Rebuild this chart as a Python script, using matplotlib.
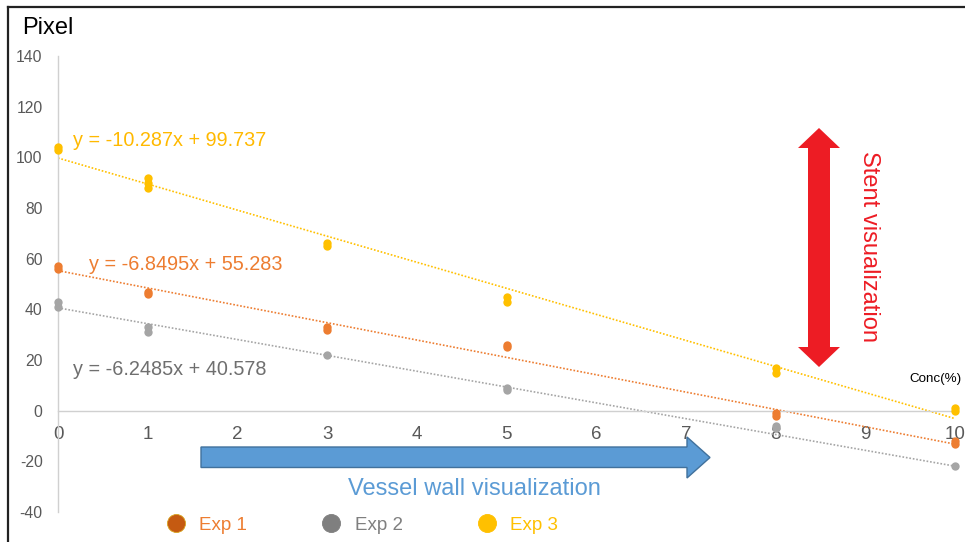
import matplotlib
matplotlib.use("Agg")
import matplotlib.pyplot as plt
from matplotlib.lines import Line2D
from matplotlib.patches import Polygon
import numpy as np

plt.rcParams['font.family'] = ['Liberation Sans', 'DejaVu Sans']
plt.rcParams['axes.unicode_minus'] = False

# ---- data ----
series_names = ["Exp 1", "Exp 2", "Exp 3"]
exp1_x = [0, 0, 1, 1, 3, 3, 5, 5, 8, 8, 10, 10]
exp1_y = [57, 56, 47, 46, 33, 32, 26, 25, -1, -2, -12, -13]
exp2_x = [0, 0, 1, 1, 3, 5, 5, 8, 8, 10]
exp2_y = [43, 41, 33, 31, 22, 9, 8, -6, -7, -22]
exp3_x = [0, 0, 1, 1, 1, 3, 3, 5, 5, 8, 8, 10, 10]
exp3_y = [104, 103, 92, 90, 88, 66, 65, 45, 43, 17, 15, 1, 0]
slopes = [-6.8495, -6.2485, -10.287]
intercepts = [55.283, 40.578, 99.737]
equations = ["y = -6.8495x + 55.283", "y = -6.2485x + 40.578", "y = -10.287x + 99.737"]
x_ticks = list(range(0, 11))
y_ticks = list(range(-40, 141, 20))

point_colors = ["#ED7D31", "#A5A5A5", "#FFC000"]
legend_colors = ["#C55A11", "#7F7F7F", "#FFC000"]
label_colors = ["#ED7D31", "#7F7F7F", "#FFC000"]
eq_colors = ["#ED7D31", "#6F6F6F", "#FFB900"]

W, H = 965, 542
fig = plt.figure(figsize=(W / 100, H / 100), dpi=100)

def fx(x):
    return x / W

def fy(y):
    return 1 - y / H

ax = fig.add_axes([fx(58), fy(512), fx(955) - fx(58), fy(56) - fy(512)])
ax.set_xlim(0, 10)
ax.set_ylim(-40, 140)

xs = [exp1_x, exp2_x, exp3_x]
ys = [exp1_y, exp2_y, exp3_y]

# trendlines
xl = np.array([0, 10])
for i in range(3):
    ax.plot(xl, slopes[i] * xl + intercepts[i], color=point_colors[i],
            lw=1.2, linestyle=(0, (1, 1.1)), zorder=2)
# points
for i in range(3):
    ax.plot(xs[i], ys[i], 'o', color=point_colors[i], ms=6, mec='none', zorder=3,
            clip_on=False)

# equation texts
eq_pos = [(0.35, 57.6), (0.17, 16.2), (0.17, 106.5)]
for i in range(3):
    ax.text(eq_pos[i][0], eq_pos[i][1], equations[i], color=eq_colors[i],
            fontsize=14.3, va='center', ha='left')

# spines/ticks
for s in ['top', 'right']:
    ax.spines[s].set_visible(False)
ax.spines['bottom'].set_position(('data', 0))
ax.spines['bottom'].set_color('#D0D0D0')
ax.spines['left'].set_color('#D0D0D0')
ax.spines['bottom'].set_linewidth(1.0)
ax.spines['left'].set_linewidth(1.0)
ax.set_xticks(x_ticks)
ax.set_yticks(y_ticks)
ax.tick_params(axis='x', length=0, pad=11, labelsize=13.5, labelcolor='#595959')
ax.tick_params(axis='y', length=0, pad=11, labelsize=11.3, labelcolor='#595959')
ax.patch.set_alpha(0)

# texts
fig.text(fx(22), fy(28), "Pixel", fontsize=17, color='black', va='center', ha='left')
fig.text(fx(936), fy(379), "Conc(%)", fontsize=9.6, color='black', va='center', ha='center')
fig.text(fx(474), fy(489), "Vessel wall visualization", fontsize=17, color='#5B9BD5',
         va='center', ha='center')
fig.text(fx(869), fy(246), "Stent visualization", fontsize=17, color='#ED1C24',
         va='center', ha='center', rotation=-90)

# red double arrow
red_pts = [(819, 128), (840, 148), (830, 148), (830, 347), (840, 347), (819, 367),
           (798, 347), (808, 347), (808, 148), (798, 148)]
fig.patches.append(Polygon([(fx(a), fy(b)) for a, b in red_pts], closed=True,
                           transform=fig.transFigure, facecolor='#ED1C24',
                           edgecolor='none', zorder=5))
# blue arrow
blue_pts = [(201, 447), (687, 447), (687, 437), (710, 457.5), (687, 478),
            (687, 467.5), (201, 467.5)]
fig.patches.append(Polygon([(fx(a), fy(b)) for a, b in blue_pts], closed=True,
                           transform=fig.transFigure, facecolor='#5B9BD5',
                           edgecolor='#41719C', lw=1.0, zorder=5))

# legend
handles = [Line2D([], [], marker='o', ls='none', color=legend_colors[i],
                  mec='#D9A520' if i == 0 else legend_colors[i], mew=0.6, ms=13)
           for i in range(3)]
fig.legend(handles, series_names, loc='center left',
           bbox_to_anchor=(fx(168), fy(525)), ncol=3, frameon=False,
           fontsize=13.5, labelcolor=label_colors, handlelength=0.8,
           handletextpad=0.85, columnspacing=4.1, borderpad=0, borderaxespad=0)

# figure frame (top & left visible)
fig.add_artist(Line2D([fx(8), fx(8)], [fy(7), fy(560)], color='#222222', lw=1.6,
                      transform=fig.transFigure))
fig.add_artist(Line2D([fx(8), fx(980)], [fy(7), fy(7)], color='#222222', lw=1.6,
                      transform=fig.transFigure))

fig.savefig("out.png", dpi=100)
